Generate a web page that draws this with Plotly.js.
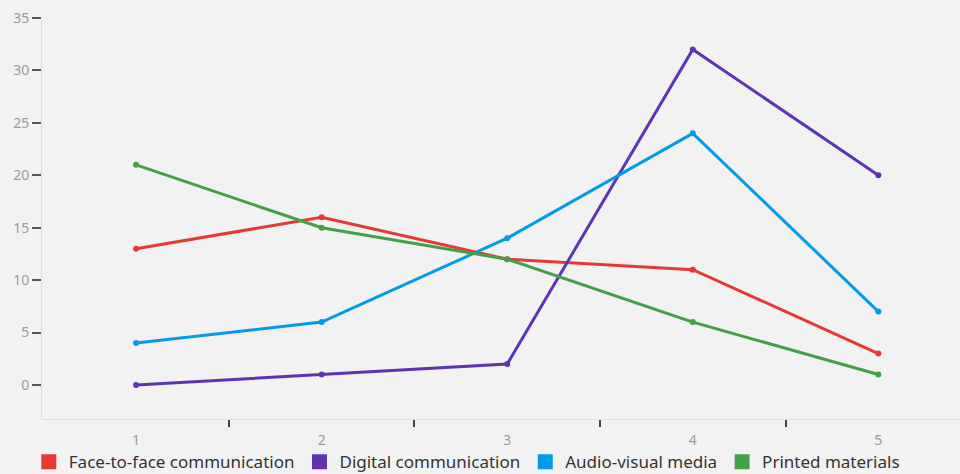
<!DOCTYPE html>
<html><head><meta charset="utf-8">
<script src="https://cdn.plot.ly/plotly-3.0.1.min.js"></script>
<style>html,body{margin:0;padding:0;background:#f2f2f2;}#c{width:960px;height:474px;}</style>
</head><body><div id="c"></div>
<script>
const categories = [1, 2, 3, 4, 5];
const seriesNames = ["Face-to-face communication", "Digital communication", "Audio-visual media", "Printed materials"];
const faceToFace = [13, 16, 12, 11, 3];
const digital = [0, 1, 2, 32, 20];
const audioVisual = [4, 6, 14, 24, 7];
const printed = [21, 15, 12, 6, 1];
const colors = ["#e53935", "#5e35b1", "#039be5", "#43a047"];
const yTicks = [0, 5, 10, 15, 20, 25, 30, 35];

const values = [faceToFace, digital, audioVisual, printed];
const traces = [];
values.forEach((v, i) => {
  traces.push({
    x: categories, y: v, type: 'scatter', mode: 'lines+markers',
    line: {color: colors[i], width: 3}, marker: {color: colors[i], size: 6},
    showlegend: false, hoverinfo: 'none'
  });
});
values.forEach((v, i) => {
  traces.push({
    x: [null], y: [null], type: 'scatter', mode: 'markers', name: seriesNames[i],
    marker: {color: colors[i], symbol: 'square', size: 15}, showlegend: true
  });
});

const layout = {
  width: 960, height: 474,
  paper_bgcolor: '#f2f2f2', plot_bgcolor: '#f2f2f2',
  margin: {l: 42, r: 0, t: 18, b: 55},
  font: {family: 'Noto Sans, sans-serif'},
  xaxis: {
    range: [0.493, 5.44], tickvals: categories, ticktext: categories.map(String),
    ticks: 'outside', ticklen: 8, tickcolor: 'rgba(0,0,0,0)',
    showgrid: false, zeroline: false, showline: true, linecolor: '#e0e0e0', linewidth: 1,
    tickfont: {size: 14, color: '#9a9a9a'},
    minor: {tickvals: [1.5, 2.5, 3.5, 4.5], ticks: 'outside', ticklen: 7, tickcolor: '#444', tickwidth: 2, showgrid: false}
  },
  yaxis: {
    range: [-3.24, 35], tickvals: yTicks, ticks: 'outside', ticklen: 9, tickwidth: 2, tickcolor: '#555',
    showgrid: false, zeroline: false, showline: true, linecolor: '#e0e0e0', linewidth: 1,
    tickfont: {size: 14, color: '#9a9a9a'}
  },
  legend: {
    orientation: 'h', xref: 'container', x: 0.03, xanchor: 'left',
    yref: 'container', y: 0.025, yanchor: 'middle',
    font: {size: 17, color: '#333'}, bgcolor: 'rgba(0,0,0,0)', itemwidth: 30
  },
  showlegend: true
};
Plotly.newPlot('c', traces, layout, {displayModeBar: false, staticPlot: true});
</script></body></html>
